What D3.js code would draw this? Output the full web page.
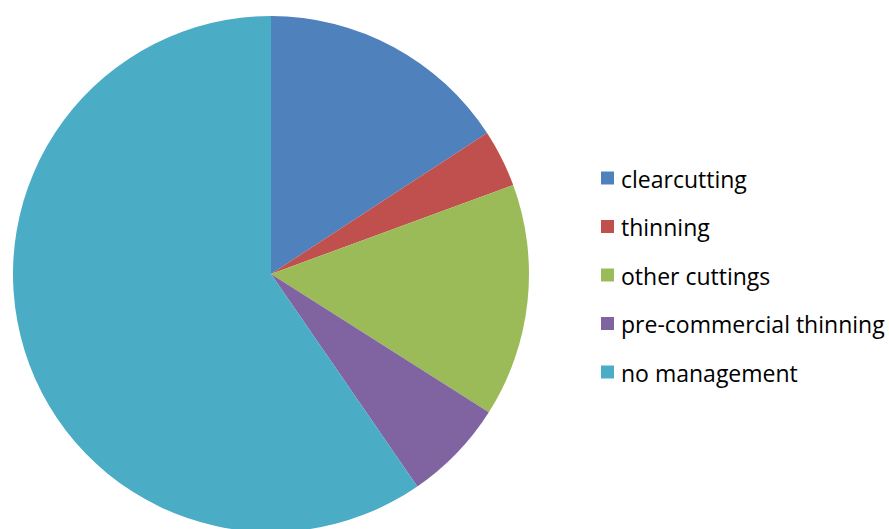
<!DOCTYPE html>
<html>
<head>
<meta charset="utf-8">
<script src="https://cdn.jsdelivr.net/npm/d3@7"></script>
<style>
  html, body { margin: 0; padding: 0; background: #fff; }
  svg { display: block; }
</style>
</head>
<body>
<svg id="chart" width="889" height="529"></svg>
<script>
// Share of forest area by management type (%)
const categories = ["clearcutting", "thinning", "other cuttings", "pre-commercial thinning", "no management"];
const shares = [15.8, 3.6, 14.6, 6.4, 59.6];
const colors = ["#4F81BD", "#C0504D", "#9BBB59", "#8064A2", "#4BACC6"];

const svg = d3.select("#chart");
const cx = 271, cy = 274, radius = 258;

const data = categories.map((c, i) => ({ name: c, value: shares[i] }));
const color = d3.scaleOrdinal().domain(categories).range(colors);

const pie = d3.pie().value(d => d.value).sort(null);
const arc = d3.arc().innerRadius(0).outerRadius(radius);

svg.append("g")
  .attr("transform", `translate(${cx},${cy})`)
  .selectAll("path")
  .data(pie(data))
  .join("path")
  .attr("d", arc)
  .attr("fill", d => color(d.data.name));

// Legend
const rowY = d3.scalePoint().domain(categories).range([178, 372]);
const legend = svg.append("g").selectAll("g")
  .data(categories)
  .join("g")
  .attr("transform", d => `translate(601,${rowY(d)})`);

legend.append("rect")
  .attr("x", 0).attr("y", -6.5)
  .attr("width", 13).attr("height", 13)
  .attr("fill", d => color(d));

legend.append("text")
  .attr("x", 20).attr("y", 9.5)
  .attr("font-family", "'Open Sans', sans-serif")
  .attr("font-size", 23)
  .attr("fill", "#000")
  .text(d => d);
</script>
</body>
</html>
